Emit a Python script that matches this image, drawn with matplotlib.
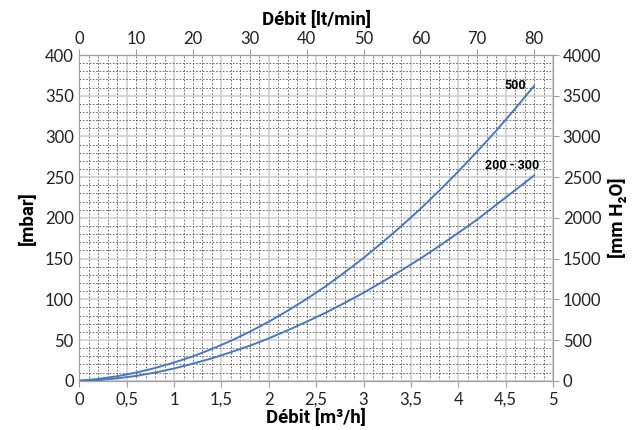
import matplotlib
matplotlib.use("Agg")
import matplotlib.pyplot as plt
from matplotlib.ticker import MultipleLocator, FuncFormatter

# flow in m3/h and pressure drop in mbar
debit = [0, 0.2, 0.4, 0.6, 0.8, 1.0, 1.2, 1.4, 1.6, 1.8, 2.0, 2.2, 2.4,
         2.6, 2.8, 3.0, 3.2, 3.4, 3.6, 3.8, 4.0, 4.2, 4.4, 4.6, 4.8]
p_500 = [0, 2.2, 5.5, 10, 15.6, 22.3, 30, 39, 49, 60.2, 72.5, 86, 100.4,
         116, 133, 150.7, 170, 190, 211, 233.4, 257, 281.5, 307, 334, 362]
p_200_300 = [0, 0.8, 2.9, 5.9, 10, 15, 21, 27.5, 35, 43, 52, 62, 72.5,
             83.5, 95.5, 108, 121.5, 135.5, 150, 165.5, 181.5, 198, 216, 234, 252]
top_ticks = [0, 10, 20, 30, 40, 50, 60, 70, 80]

plt.rcParams['font.family'] = ['Lato', 'DejaVu Sans']

fig = plt.figure(figsize=(6.41, 4.30), dpi=100)
ax = fig.add_axes([0.1237, 0.1146, 0.7390, 0.7574])

blue = "#4a78bd"
ax.plot(debit, p_500, color=blue, lw=1.4)
ax.plot(debit, p_200_300, color=blue, lw=1.4)

ax.set_xlim(0, 5)
ax.set_ylim(0, 400)
ax.xaxis.set_major_locator(MultipleLocator(0.5))
ax.xaxis.set_minor_locator(MultipleLocator(0.1))
ax.yaxis.set_major_locator(MultipleLocator(50))
ax.yaxis.set_minor_locator(MultipleLocator(10))
ax.xaxis.set_major_formatter(FuncFormatter(lambda v, p: f"{v:g}".replace(".", ",")))

ax.grid(which="major", color="#d0d0d0", lw=1.2, ls="-")
ax.grid(which="minor", color="#555555", lw=0.6, ls=(0, (2, 2)))
ax.set_axisbelow(True)

for s in ax.spines.values():
    s.set_color("#a0a0a0")
ax.tick_params(which="both", length=0, labelsize=12, colors="#222222", pad=4)
ax.tick_params(axis="x", which="major", length=4, color="#a0a0a0")

bold = dict(fontsize=13.5, fontweight="bold", family=["Roboto", "DejaVu Sans"])
ax.set_xlabel("Débit [m³/h]", labelpad=1, **bold)
ax.set_ylabel("[mbar]", labelpad=6, **bold)

# right axis in mm H2O
ax2 = ax.twinx()
ax2.set_ylim(0, 4000)
ax2.yaxis.set_major_locator(MultipleLocator(500))
ax2.tick_params(length=4, color="#a0a0a0", labelsize=12, labelcolor="#222222", pad=3)
for s in ax2.spines.values():
    s.set_color("#a0a0a0")
ax2.set_ylabel("[mm H₂O]", labelpad=5, **bold)

# top axis in lt/min
sec = ax.secondary_xaxis("top", functions=(lambda x: x * 50 / 3, lambda x: x * 3 / 50))
sec.set_xticks(top_ticks)
sec.tick_params(which="major", length=4, color="#a0a0a0", labelsize=12, labelcolor="#222222", pad=2)
sec.spines["top"].set_color("#a0a0a0")
sec.set_xlabel("Débit [lt/min]", labelpad=4, **bold)

ax.text(4.72, 363, "500", ha="right", va="center", fontsize=9, fontweight="bold",
        family=["Roboto", "DejaVu Sans"])
ax.text(4.86, 264, "200 - 300", ha="right", va="center", fontsize=9, fontweight="bold",
        family=["Roboto", "DejaVu Sans"])

fig.savefig("out.png", dpi=100)
